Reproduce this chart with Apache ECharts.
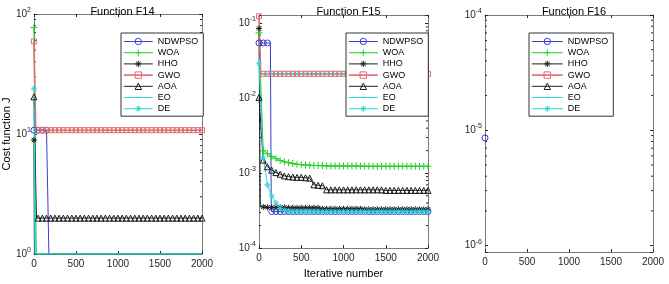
<!DOCTYPE html>
<html>
<head>
<meta charset="utf-8">
<script src="https://cdn.jsdelivr.net/npm/echarts@6/dist/echarts.min.js"></script>
<style>
  html, body { margin: 0; padding: 0; background: #fff; }
  #chart { width: 669px; height: 284px; }
</style>
</head>
<body>
<div id="chart"></div>
<script>
// iterations where the markers sit (every 50 iterations)
const iters = [0, 50, 100, 150, 200, 250, 300, 350, 400, 450,
  500, 550, 600, 650, 700, 750, 800, 850, 900, 950,
  1000, 1050, 1100, 1150, 1200, 1250, 1300, 1350, 1400, 1450,
  1500, 1550, 1600, 1650, 1700, 1750, 1800, 1850, 1900, 1950,
  2000];
const names = ["NDWPSO", "WOA", "HHO", "GWO", "AOA", "EO", "DE"];

// ---- Function F14 ----
const f14Ndwpso = [10.76, 10.76, 10.76, 10.76, 0.998, 0.998, 0.998, 0.998, 0.998, 0.998,
  0.998, 0.998, 0.998, 0.998, 0.998, 0.998, 0.998, 0.998, 0.998, 0.998,
  0.998, 0.998, 0.998, 0.998, 0.998, 0.998, 0.998, 0.998, 0.998, 0.998,
  0.998, 0.998, 0.998, 0.998, 0.998, 0.998, 0.998, 0.998, 0.998, 0.998,
  0.998];
const f14Woa = [77, 0.998, 0.998, 0.998, 0.998, 0.998, 0.998, 0.998, 0.998, 0.998,
  0.998, 0.998, 0.998, 0.998, 0.998, 0.998, 0.998, 0.998, 0.998, 0.998,
  0.998, 0.998, 0.998, 0.998, 0.998, 0.998, 0.998, 0.998, 0.998, 0.998,
  0.998, 0.998, 0.998, 0.998, 0.998, 0.998, 0.998, 0.998, 0.998, 0.998,
  0.998];
const f14Hho = [8.9, 0.998, 0.998, 0.998, 0.998, 0.998, 0.998, 0.998, 0.998, 0.998,
  0.998, 0.998, 0.998, 0.998, 0.998, 0.998, 0.998, 0.998, 0.998, 0.998,
  0.998, 0.998, 0.998, 0.998, 0.998, 0.998, 0.998, 0.998, 0.998, 0.998,
  0.998, 0.998, 0.998, 0.998, 0.998, 0.998, 0.998, 0.998, 0.998, 0.998,
  0.998];
const f14Gwo = [59, 10.76, 10.76, 10.76, 10.76, 10.76, 10.76, 10.76, 10.76, 10.76,
  10.76, 10.76, 10.76, 10.76, 10.76, 10.76, 10.76, 10.76, 10.76, 10.76,
  10.76, 10.76, 10.76, 10.76, 10.76, 10.76, 10.76, 10.76, 10.76, 10.76,
  10.76, 10.76, 10.76, 10.76, 10.76, 10.76, 10.76, 10.76, 10.76, 10.76,
  10.76];
const f14Aoa = [20.4, 1.99, 1.99, 1.99, 1.99, 1.99, 1.99, 1.99, 1.99, 1.99,
  1.99, 1.99, 1.99, 1.99, 1.99, 1.99, 1.99, 1.99, 1.99, 1.99,
  1.99, 1.99, 1.99, 1.99, 1.99, 1.99, 1.99, 1.99, 1.99, 1.99,
  1.99, 1.99, 1.99, 1.99, 1.99, 1.99, 1.99, 1.99, 1.99, 1.99,
  1.99];
const f14Eo = [16, 0.998, 0.998, 0.998, 0.998, 0.998, 0.998, 0.998, 0.998, 0.998,
  0.998, 0.998, 0.998, 0.998, 0.998, 0.998, 0.998, 0.998, 0.998, 0.998,
  0.998, 0.998, 0.998, 0.998, 0.998, 0.998, 0.998, 0.998, 0.998, 0.998,
  0.998, 0.998, 0.998, 0.998, 0.998, 0.998, 0.998, 0.998, 0.998, 0.998,
  0.998];
const f14De = [24, 0.998, 0.998, 0.998, 0.998, 0.998, 0.998, 0.998, 0.998, 0.998,
  0.998, 0.998, 0.998, 0.998, 0.998, 0.998, 0.998, 0.998, 0.998, 0.998,
  0.998, 0.998, 0.998, 0.998, 0.998, 0.998, 0.998, 0.998, 0.998, 0.998,
  0.998, 0.998, 0.998, 0.998, 0.998, 0.998, 0.998, 0.998, 0.998, 0.998,
  0.998];
// sharp drops between two markers: [iteration, value]
const f14NdwpsoDrop = [[170, 10.76], [178, 0.998]];
const f14HhoDrop = [[6, 0.998]];
const f14WoaDrop = [[28, 0.998]];
const f14GwoDrop = [[22, 10.76]];
const f14AoaDrop = [[30, 1.99]];
const f14EoDrop = [[12, 0.998]];
const f14DeDrop = [[20, 0.998]];

// ---- Function F15 ----
const f15Ndwpso = [0.055, 0.055, 0.055, 3.075e-4, 3.075e-4, 3.075e-4, 3.075e-4, 3.075e-4, 3.075e-4, 3.075e-4,
  3.075e-4, 3.075e-4, 3.075e-4, 3.075e-4, 3.075e-4, 3.075e-4, 3.075e-4, 3.075e-4, 3.075e-4, 3.075e-4,
  3.075e-4, 3.075e-4, 3.075e-4, 3.075e-4, 3.075e-4, 3.075e-4, 3.075e-4, 3.075e-4, 3.075e-4, 3.075e-4,
  3.075e-4, 3.075e-4, 3.075e-4, 3.075e-4, 3.075e-4, 3.075e-4, 3.075e-4, 3.075e-4, 3.075e-4, 3.075e-4,
  3.075e-4];
const f15Woa = [0.075, 2.0e-3, 1.82e-3, 1.68e-3, 1.57e-3, 1.48e-3, 1.42e-3, 1.38e-3, 1.35e-3, 1.32e-3,
  1.30e-3, 1.29e-3, 1.28e-3, 1.27e-3, 1.27e-3, 1.26e-3, 1.25e-3, 1.25e-3, 1.25e-3, 1.25e-3,
  1.25e-3, 1.25e-3, 1.25e-3, 1.25e-3, 1.25e-3, 1.24e-3, 1.24e-3, 1.24e-3, 1.24e-3, 1.24e-3,
  1.24e-3, 1.24e-3, 1.24e-3, 1.24e-3, 1.24e-3, 1.24e-3, 1.24e-3, 1.24e-3, 1.24e-3, 1.24e-3,
  1.24e-3];
const f15Hho = [0.086, 3.55e-4, 3.5e-4, 3.5e-4, 3.5e-4, 3.5e-4, 3.5e-4, 3.45e-4, 3.45e-4, 3.45e-4,
  3.45e-4, 3.45e-4, 3.45e-4, 3.45e-4, 3.45e-4, 3.35e-4, 3.35e-4, 3.35e-4, 3.35e-4, 3.35e-4,
  3.35e-4, 3.35e-4, 3.35e-4, 3.35e-4, 3.35e-4, 3.3e-4, 3.3e-4, 3.3e-4, 3.3e-4, 3.3e-4,
  3.3e-4, 3.3e-4, 3.3e-4, 3.3e-4, 3.3e-4, 3.3e-4, 3.3e-4, 3.3e-4, 3.3e-4, 3.3e-4,
  3.3e-4];
const f15Gwo = [0.125, 0.0213, 0.0213, 0.0213, 0.0213, 0.0213, 0.0213, 0.0213, 0.0213, 0.0213,
  0.0213, 0.0213, 0.0213, 0.0213, 0.0213, 0.0213, 0.0213, 0.0213, 0.0213, 0.0213,
  0.0213, 0.0213, 0.0213, 0.0213, 0.0213, 0.0213, 0.0213, 0.0213, 0.0213, 0.0213,
  0.0213, 0.0213, 0.0213, 0.0213, 0.0213, 0.0213, 0.0213, 0.0213, 0.0213, 0.0213,
  0.0213];
const f15Aoa = [0.0103, 1.5e-3, 1.22e-3, 1.1e-3, 1.02e-3, 9.7e-4, 9.2e-4, 9.0e-4, 8.9e-4, 8.8e-4,
  8.8e-4, 8.7e-4, 8.6e-4, 7.0e-4, 6.9e-4, 6.8e-4, 6.0e-4, 6.0e-4, 6.0e-4, 6.0e-4,
  6.0e-4, 6.0e-4, 6.0e-4, 6.0e-4, 6.0e-4, 6.0e-4, 6.0e-4, 6.0e-4, 6.0e-4, 6.0e-4,
  5.9e-4, 5.9e-4, 5.9e-4, 5.9e-4, 5.9e-4, 5.9e-4, 5.9e-4, 5.9e-4, 5.9e-4, 5.9e-4,
  5.9e-4];
const f15Eo = [0.033, 0.0213, 0.0213, 0.0213, 0.0213, 0.0213, 0.0213, 0.0213, 0.0213, 0.0213,
  0.0213, 0.0213, 0.0213, 0.0213, 0.0213, 0.0213, 0.0213, 0.0213, 0.0213, 0.0213,
  0.0213, 0.0213, 0.0213, 0.0213, 0.0213, 0.0213, 0.0213, 0.0213, 0.0213, 0.0213,
  0.0213, 0.0213, 0.0213, 0.0213, 0.0213, 0.0213, 0.0213, 0.0213, 0.0213, 0.0213,
  0.0213];
const f15De = [0.029, 1.6e-3, 7.0e-4, 5.0e-4, 4.0e-4, 3.4e-4, 3.2e-4, 3.12e-4, 3.08e-4, 3.08e-4,
  3.075e-4, 3.075e-4, 3.075e-4, 3.075e-4, 3.075e-4, 3.075e-4, 3.075e-4, 3.075e-4, 3.075e-4, 3.075e-4,
  3.075e-4, 3.075e-4, 3.075e-4, 3.075e-4, 3.075e-4, 3.075e-4, 3.075e-4, 3.075e-4, 3.075e-4, 3.075e-4,
  3.075e-4, 3.075e-4, 3.075e-4, 3.075e-4, 3.075e-4, 3.075e-4, 3.075e-4, 3.075e-4, 3.075e-4, 3.075e-4,
  3.075e-4];
const f15NdwpsoDrop = [[135, 0.055], [145, 3.1e-4]];
const f15HhoDrop = [[15, 3.6e-4]];
const f15GwoDrop = [[20, 0.0213]];
const f15EoDrop = [[15, 0.0213]];

// ---- Function F16 (only NDWPSO has a positive value to show) ----
const f16Iters = [0];
const f16Ndwpso = [8.6e-6];

// minor ticks of the log axes
const f14Minor = [2, 3, 4, 5, 6, 7, 8, 9, 20, 30, 40, 50, 60, 70, 80, 90];
const f15Minor = [2e-4, 3e-4, 4e-4, 5e-4, 6e-4, 7e-4, 8e-4, 9e-4,
  2e-3, 3e-3, 4e-3, 5e-3, 6e-3, 7e-3, 8e-3, 9e-3,
  2e-2, 3e-2, 4e-2, 5e-2, 6e-2, 7e-2, 8e-2, 9e-2];
const f16Minor = [2e-6, 3e-6, 4e-6, 5e-6, 6e-6, 7e-6, 8e-6, 9e-6,
  2e-5, 3e-5, 4e-5, 5e-5, 6e-5, 7e-5, 8e-5, 9e-5];

const font = "'Liberation Sans', Arial, Helvetica, sans-serif";
const axisColor = "#262626";
const boxColor = "#7a7a7a";

const plusPath = "path://M5,0L5,10M0,5L10,5";
const starPath = "path://M5,0L5,10M0,5L10,5M1.5,1.5L8.5,8.5M8.5,1.5L1.5,8.5";
// small dot inside a 10x10 box, like MATLAB's '.' marker
const dotPath = "path://M0,0M10,10M3.8,3.8L6.2,3.8L6.2,6.2L3.8,6.2Z";

const styles = {
  NDWPSO: { color: "#3c3cd2", symbol: "circle", size: 6 },
  WOA: { color: "#22d022", symbol: plusPath, size: 7 },
  HHO: { color: "#1e1e1e", symbol: starPath, size: 6 },
  GWO: { color: "#e06c6c", symbol: "rect", size: 5, width: 1.6 },
  AOA: { color: "#1e1e1e", symbol: "triangle", size: 6 },
  EO: { color: "#2cd8d8", symbol: dotPath, size: 8, filled: true },
  DE: { color: "#2cd8d8", symbol: starPath, size: 6 },
};

const panels = [
  {
    title: "Function F14", left: 33, top: 14, width: 169, height: 240,
    yMin: 1, yMax: 100, minor: f14Minor, legendLeft: 121, iconW: 29,
    curves: {
      NDWPSO: [iters, f14Ndwpso, f14NdwpsoDrop], WOA: [iters, f14Woa, f14WoaDrop],
      HHO: [iters, f14Hho, f14HhoDrop], GWO: [iters, f14Gwo, f14GwoDrop],
      AOA: [iters, f14Aoa, f14AoaDrop], EO: [iters, f14Eo, f14EoDrop], DE: [iters, f14De, f14DeDrop],
    },
  },
  {
    title: "Function F15", left: 259, top: 15, width: 169, height: 239,
    yMin: 1e-4, yMax: 0.13, minor: f15Minor, legendLeft: 346, iconW: 29,
    curves: {
      NDWPSO: [iters, f15Ndwpso, f15NdwpsoDrop], WOA: [iters, f15Woa, []],
      HHO: [iters, f15Hho, f15HhoDrop], GWO: [iters, f15Gwo, f15GwoDrop],
      AOA: [iters, f15Aoa, []], EO: [iters, f15Eo, f15EoDrop], DE: [iters, f15De, []],
    },
  },
  {
    title: "Function F16", left: 485, top: 15, width: 168, height: 237,
    yMin: 8.8e-7, yMax: 1e-4, minor: f16Minor, legendLeft: 529, iconW: 31,
    curves: { NDWPSO: [f16Iters, f16Ndwpso, []] },
  },
];

function curve(xs, ys, drops) {
  const pts = xs.map((x, i) => ({ value: [x, ys[i]] }));
  (drops || []).forEach((p) => pts.push({ value: p, symbol: "none" }));
  return pts.sort((a, b) => a.value[0] - b.value[0]);
}

function logLabel(v) {
  const e = Math.log10(v);
  const r = Math.round(e);
  if (Math.abs(e - r) > 1e-6) return "";
  return "{b|10}{s|" + r + "}";
}

function symbolStyle(st) {
  return st.filled
    ? { color: st.color, borderWidth: 0 }
    : { color: "rgba(0,0,0,0)", borderColor: st.color, borderWidth: 1 };
}

const grid = [], xAxis = [], yAxis = [], series = [], title = [], legend = [];
const boxLine = { show: true, onZero: false, lineStyle: { color: boxColor, width: 1 } };
const tick = { inside: true, length: 3, lineStyle: { color: axisColor } };

panels.forEach((p, i) => {
  grid.push({ left: p.left, top: p.top, width: p.width, height: p.height });
  title.push({
    text: p.title, left: p.left + p.width / 2, top: 1, textAlign: "center",
    textStyle: { fontSize: 11, fontWeight: "normal", color: "#000", fontFamily: font },
  });
  // bottom x axis and left y axis carry the labels
  xAxis.push({
    gridIndex: i, type: "value", min: 0, max: 2000, interval: 500,
    axisLine: boxLine, axisTick: tick,
    axisLabel: { fontSize: 10, color: axisColor, fontFamily: font, margin: 5, formatter: (v) => String(v) },
    splitLine: { show: false },
    name: i === 1 ? "Iterative number" : "",
    nameLocation: "middle", nameGap: 17,
    nameTextStyle: { fontSize: 11, color: "#000", fontFamily: font },
  });
  yAxis.push({
    gridIndex: i, type: "log", logBase: 10, min: p.yMin, max: p.yMax,
    axisLine: boxLine, axisTick: tick,
    axisLabel: {
      formatter: logLabel, margin: 3, color: axisColor, fontFamily: font,
      rich: {
        b: { fontSize: 10, lineHeight: 15, color: axisColor, fontFamily: font },
        s: { fontSize: 7, lineHeight: 6, verticalAlign: "top", color: axisColor, fontFamily: font },
      },
    },
    splitLine: { show: false },
    name: i === 0 ? "Cost function J" : "",
    nameLocation: "middle", nameGap: 21, nameRotate: 90,
    nameTextStyle: { fontSize: 11, color: "#000", fontFamily: font },
  });
});
// top and right axes close the box
panels.forEach((p, i) => {
  xAxis.push({
    gridIndex: i, type: "value", min: 0, max: 2000, interval: 500, position: "top",
    axisLine: boxLine, axisTick: tick,
    axisLabel: { show: false }, splitLine: { show: false },
  });
  yAxis.push({
    gridIndex: i, type: "log", logBase: 10, min: p.yMin, max: p.yMax, position: "right",
    axisLine: boxLine, axisTick: tick,
    axisLabel: { show: false }, splitLine: { show: false },
  });
});

panels.forEach((p, i) => {
  names.forEach((n) => {
    const st = styles[n];
    const c = p.curves[n];
    series.push({
      name: n, type: "line", xAxisIndex: i, yAxisIndex: i,
      data: c ? curve(c[0], c[1], c[2]) : [],
      symbol: st.symbol, symbolSize: st.size,
      lineStyle: { color: st.color, width: st.width || 1 },
      itemStyle: symbolStyle(st),
      emphasis: { disabled: true },
      z: 2,
    });
  });
  // minor ticks on both sides of the log axis
  series.push({
    type: "custom", xAxisIndex: i, yAxisIndex: i, silent: true, z: 1,
    data: p.minor.map((v) => [0, v]),
    renderItem: (params, api) => {
      const v = api.value(1);
      const l = api.coord([0, v]);
      const r = api.coord([2000, v]);
      const st = { stroke: axisColor, lineWidth: 1 };
      return {
        type: "group",
        children: [
          { type: "line", shape: { x1: l[0], y1: l[1], x2: l[0] + 2, y2: l[1] }, style: st },
          { type: "line", shape: { x1: r[0] - 2, y1: r[1], x2: r[0], y2: r[1] }, style: st },
        ],
      };
    },
  });
  legend.push({
    data: names.map((n) => ({
      name: n,
      itemStyle: symbolStyle(styles[n]),
      lineStyle: { color: styles[n].color, width: styles[n].width || 1 },
    })),
    orient: "vertical", left: p.legendLeft, top: 33, z: 10,
    itemWidth: p.iconW, itemHeight: 8, itemGap: 2.2,
    padding: [4, 5, 3, 2], backgroundColor: "#fff",
    borderColor: "#333", borderWidth: 1, borderRadius: 0,
    selectedMode: false,
    textStyle: { fontSize: 9, color: "#000", fontFamily: font },
  });
});

const chart = echarts.init(document.getElementById("chart"));
chart.setOption({
  animation: false,
  backgroundColor: "#fff",
  title, grid, xAxis, yAxis, legend, series,
});
</script>
</body>
</html>
